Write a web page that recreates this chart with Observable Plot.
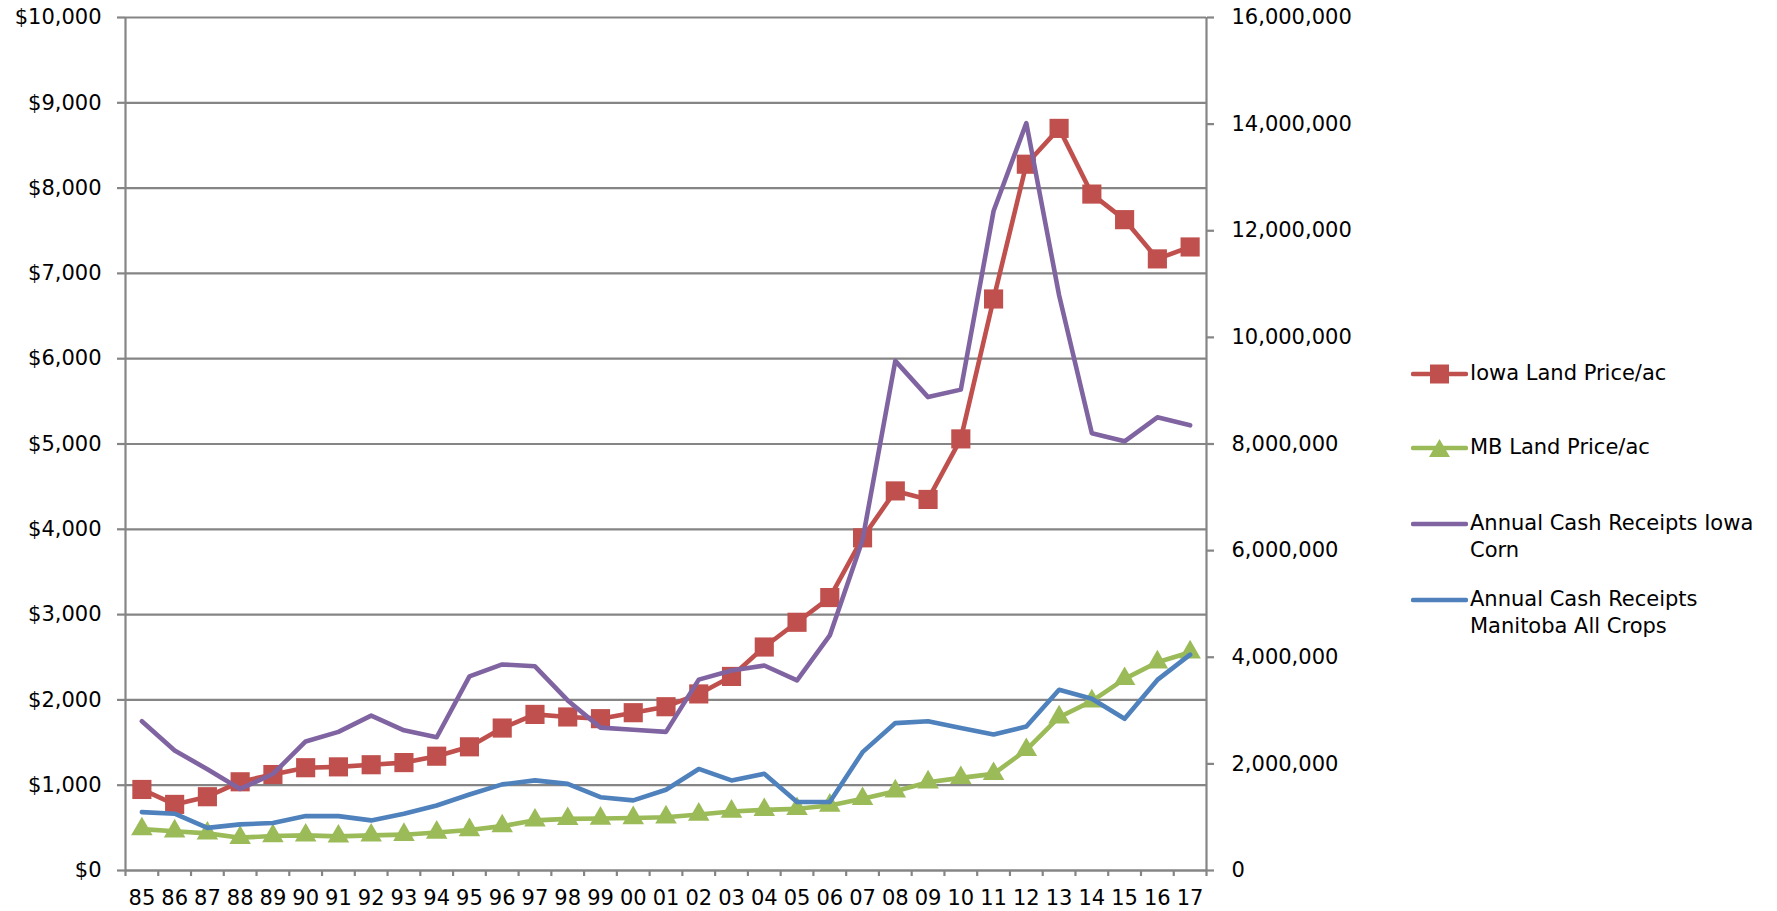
<!DOCTYPE html>
<html>
<head>
<meta charset="utf-8">
<script src="https://cdn.jsdelivr.net/npm/d3@7"></script>
<script src="https://cdn.jsdelivr.net/npm/@observablehq/plot@0.6"></script>
<style>
  html, body { margin: 0; padding: 0; background: #fff; }
  #wrap { position: relative; width: 1777px; height: 911px; }
  #legend { position: absolute; left: 0; top: 0; font-family: "DejaVu Sans", sans-serif; font-size: 21px; color: #000; }
  .item { position: absolute; left: 1411px; display: flex; align-items: flex-start; line-height: 27px; }
  .item svg { flex: none; }
  .item span { white-space: nowrap; margin-left: 2px; }
</style>
</head>
<body>
<div id="wrap"><div id="legend"></div></div>
<script>
// Category labels (years)
const years = ["85","86","87","88","89","90","91","92","93","94","95","96","97","98","99","00","01","02","03","04","05","06","07","08","09","10","11","12","13","14","15","16","17"];
// Left axis series ($/acre)
const iowaLand = [950,775,865,1040,1125,1205,1215,1240,1265,1340,1450,1670,1830,1800,1780,1850,1920,2070,2275,2620,2910,3200,3900,4450,4350,5060,6700,8280,8700,7930,7630,7170,7310];
const mbLand = [485,460,435,385,405,412,400,412,420,445,475,520,588,605,610,615,625,656,692,711,723,762,840,930,1035,1086,1133,1414,1797,1985,2247,2442,2559];
// Right axis series (annual cash receipts)
const iowaCorn = [2800000,2250000,1900000,1530000,1810000,2420000,2600000,2905000,2630000,2500000,3640000,3865000,3830000,3190000,2680000,2640000,2600000,3580000,3750000,3845000,3565000,4410000,6200000,9560000,8880000,9020000,12370000,14020000,10790000,8200000,8050000,8500000,8350000];
const manitobaCrops = [1095000,1065000,800000,865000,890000,1020000,1020000,940000,1065000,1220000,1425000,1615000,1690000,1625000,1375000,1315000,1515000,1905000,1690000,1815000,1285000,1285000,2220000,2765000,2800000,2675000,2550000,2700000,3390000,3220000,2845000,3575000,4050000];
// Axis ticks
const leftTicks = [0,1000,2000,3000,4000,5000,6000,7000,8000,9000,10000];
const rightTicks = [0,2000000,4000000,6000000,8000000,10000000,12000000,14000000,16000000];
const seriesNames = ["Iowa Land Price/ac","MB Land Price/ac","Annual Cash Receipts Iowa\nCorn","Annual Cash Receipts\nManitoba All Crops"];
const seriesColors = ["#C0504D","#9BBB59","#8064A2","#4F81BD"];

const LEFT_MAX = 10000, RIGHT_MAX = 16000000;
const toLeft = v => v / RIGHT_MAX * LEFT_MAX;
const rows = years.map((yr, i) => ({i, yr, iowaLand: iowaLand[i], mbLand: mbLand[i], iowaCorn: toLeft(iowaCorn[i]), manitobaCrops: toLeft(manitobaCrops[i])}));

const grid = "#858585";
const gw = 2.2;
const lw = 4.6;
const idx = d3.range(years.length);
const bounds = d3.range(years.length + 1).map(i => i - 0.5);

const chart = Plot.plot({
  width: 1777,
  height: 911,
  marginLeft: 125,
  marginRight: 571,
  marginTop: 17,
  marginBottom: 41,
  style: {fontFamily: "DejaVu Sans, sans-serif", fontSize: "21px", color: "#000", background: "#fff"},
  x: {type: "linear", domain: [-0.5, years.length - 0.5]},
  y: {domain: [0, LEFT_MAX]},
  marks: [
    Plot.gridY(leftTicks, {stroke: grid, strokeOpacity: 1, strokeWidth: gw}),
    Plot.axisY(leftTicks, {anchor: "left", label: null, tickSize: 8, tickPadding: 16, stroke: grid, strokeWidth: gw, tickFormat: d => "$" + d3.format(",")(d), fontSize: 21}),
    Plot.axisY(rightTicks.map(toLeft), {anchor: "right", label: null, tickSize: 7, tickPadding: 18, stroke: grid, strokeWidth: gw, tickFormat: d => d3.format(",")(Math.round(d / LEFT_MAX * RIGHT_MAX)), fontSize: 21}),
    Plot.axisX(bounds, {anchor: "bottom", label: null, tickSize: 6, stroke: grid, strokeWidth: gw, tickFormat: () => ""}),
    Plot.axisX(idx, {anchor: "bottom", label: null, tickSize: 0, tickPadding: 20, tickFormat: i => years[i], fontSize: 21}),
    Plot.ruleX([-0.5, years.length - 0.5], {stroke: grid, strokeWidth: gw}),
    Plot.ruleY([0], {stroke: grid, strokeWidth: gw}),
    Plot.lineY(rows, {x: "i", y: "iowaLand", stroke: seriesColors[0], strokeWidth: lw}),
    Plot.dot(rows, {x: "i", y: "iowaLand", symbol: "square", r: 10.8, fill: seriesColors[0]}),
    Plot.lineY(rows, {x: "i", y: "mbLand", stroke: seriesColors[1], strokeWidth: lw}),
    Plot.dot(rows, {x: "i", y: "mbLand", symbol: "triangle", r: 8, fill: seriesColors[1]}),
    Plot.lineY(rows, {x: "i", y: "iowaCorn", stroke: seriesColors[2], strokeWidth: lw}),
    Plot.lineY(rows, {x: "i", y: "manitobaCrops", stroke: seriesColors[3], strokeWidth: lw})
  ]
});
document.getElementById("wrap").prepend(chart);

// Legend
const legendTops = [360, 434, 510, 586];
const markers = ["square", "triangle", null, null];
const legend = document.getElementById("legend");
seriesNames.forEach((name, k) => {
  const item = document.createElement("div");
  item.className = "item";
  item.style.top = legendTops[k] + "px";
  let mk = "";
  if (markers[k] === "square") mk = `<rect x="19" y="4.5" width="19" height="19" fill="${seriesColors[k]}"/>`;
  if (markers[k] === "triangle") mk = `<path d="M28.5,5 L39,23 L18,23 Z" fill="${seriesColors[k]}"/>`;
  item.innerHTML = `<svg width="57" height="27"><line x1="2" x2="55" y1="14" y2="14" stroke="${seriesColors[k]}" stroke-width="4.5" stroke-linecap="round"/>${mk}</svg><span>${name.replace("\n", "<br>")}</span>`;
  legend.appendChild(item);
});
</script>
</body>
</html>
